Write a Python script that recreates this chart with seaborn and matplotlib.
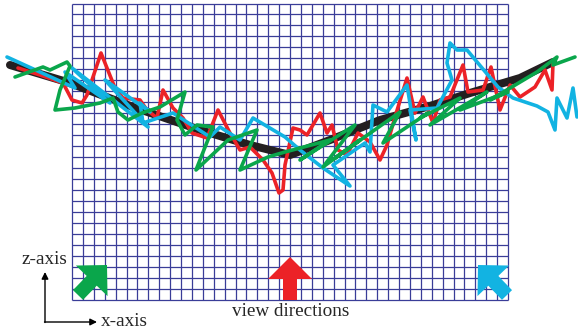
import numpy as np
import pandas as pd
import matplotlib
matplotlib.use("Agg")
import matplotlib.pyplot as plt
from matplotlib.patches import FancyArrow
import seaborn as sns

sns.set_theme(style="white")
plt.rcParams['font.family'] = ['Liberation Serif', 'DejaVu Serif']

# ---- data (drawing units: x to the right, y measured downward) ----
mean_x = [10, 67, 133, 200, 250, 290, 330, 380, 430, 470, 520, 553]
mean_y = [65, 82, 107, 130, 145, 155, 140, 120, 106, 93, 78, 62]

red_x = [18, 40, 63, 72, 82, 87, 101, 115, 123, 140, 147, 157, 163, 173, 183, 192,
         207, 218, 230, 240, 250, 263, 272, 279, 283, 285, 293, 300, 307, 320, 327,
         332, 338, 347, 358, 370, 380, 387, 395, 407, 415, 423, 433, 440, 450, 463,
         468, 483, 491, 500, 510, 520, 535, 545, 552, 553]
red_y = [68, 75, 83, 100, 103, 95, 53, 88, 98, 100, 110, 118, 90, 108, 118, 133,
         138, 110, 133, 150, 147, 160, 173, 193, 190, 165, 128, 130, 135, 113, 133,
         125, 150, 155, 133, 142, 160, 145, 117, 78, 113, 97, 123, 100, 97, 65,
         92, 90, 67, 110, 85, 97, 87, 70, 90, 63]

green_x = [15, 43, 50, 67, 70, 60, 55, 75, 100, 113, 118, 128, 142, 160, 185, 177,
           185, 197, 213, 196, 228, 257, 240, 268, 285, 330, 300, 355, 323, 360,
           335, 400, 383, 428, 420, 460, 430, 487, 460, 508, 490, 537, 557, 553, 575]
green_y = [77, 67, 70, 62, 66, 90, 110, 108, 103, 98, 112, 120, 113, 107, 92, 120,
           135, 125, 127, 170, 140, 130, 170, 157, 152, 140, 160, 125, 167, 140,
           158, 112, 143, 113, 118, 98, 125, 92, 110, 92, 100, 72, 57, 65, 57]

cyan_x = [7, 75, 65, 110, 72, 148, 105, 150, 140, 143, 173, 210, 220, 240, 253,
          285, 300, 323, 350, 333, 365, 370, 373, 387, 407, 416, 410, 437, 452,
          447, 450, 457, 467, 498, 513, 537, 548, 555, 557, 567, 573, 577]
cyan_y = [57, 88, 72, 103, 68, 127, 80, 112, 103, 123, 113, 137, 127, 140, 118,
          137, 150, 168, 186, 165, 143, 152, 105, 112, 85, 140, 110, 108, 80,
          63, 43, 50, 50, 87, 98, 106, 112, 130, 98, 118, 88, 117]

labels_axes = ["z-axis", "x-axis"]
label_views = "view directions"

# ---- figure ----
W, H = 578, 333
fig = plt.figure(figsize=(W / 100, H / 100), dpi=100)
ax = fig.add_axes([0, 0, 1, 1])

# grid
gx0, gx1, gy0, gy1 = 72, 508, 3.5, 300
nx, ny = 40, 27
grid_col = "#3a3d98"
xs = np.linspace(gx0, gx1, nx + 1)
ys = np.linspace(gy0, gy1, ny + 1)
ax.vlines(xs, gy0, gy1, color=grid_col, lw=0.9, zorder=1)
ax.hlines(ys, gx0, gx1, color=grid_col, lw=0.9, zorder=1)

def draw(xv, yv, color, lw, z):
    df = pd.DataFrame({"x": xv, "y": yv})
    sns.lineplot(data=df, x="x", y="y", sort=False, estimator=None, color=color,
                 lw=lw, ax=ax, zorder=z, solid_joinstyle="round",
                 solid_capstyle="round")

draw(mean_x, mean_y, "#231f20", 5.8, 3)
draw(red_x, red_y, "#ec2227", 2.6, 4)
draw(cyan_x, cyan_y, "#12b3e2", 2.6, 5)
draw(green_x, green_y, "#0aa64b", 2.6, 6)
ax.set_xlim(0, W)
ax.set_ylim(H, 0)
ax.axis("off")

# view direction arrows
arrows = [
    (78, 295, 29, -30, "#0aa64b"),
    (290, 300, 0, -43, "#ec2227"),
    (507, 295, -29, -30, "#12b3e2"),
]
for x0, y0, dx, dy, c in arrows:
    ax.add_patch(FancyArrow(x0, y0, dx, dy, width=14, head_width=44,
                            head_length=22, length_includes_head=True,
                            color=c, lw=0, zorder=7))

# axis indicator
ax.annotate("", xy=(45, 272), xytext=(45, 322.5),
            arrowprops=dict(arrowstyle="-|>", color="black", lw=1.0,
                            mutation_scale=10, shrinkA=0, shrinkB=0))
ax.annotate("", xy=(97, 322), xytext=(44.5, 322),
            arrowprops=dict(arrowstyle="-|>", color="black", lw=1.0,
                            mutation_scale=10, shrinkA=0, shrinkB=0))
ax.text(22, 259, labels_axes[0], fontsize=13.8, ha="left", va="center")
ax.text(101, 322, labels_axes[1], fontsize=13.8, ha="left", va="center")
ax.text(291, 312, label_views, fontsize=13.8, ha="center", va="center")

fig.savefig("out.png", dpi=100)
